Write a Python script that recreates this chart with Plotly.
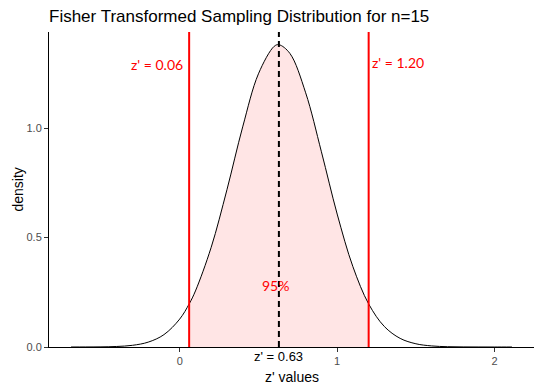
import plotly.graph_objects as go

# Curve (density of z' values)
z_values = [-0.69, -0.6, -0.5, -0.4, -0.3, -0.2, -0.1, 0.0, 0.06, 0.1, 0.2, 0.3, 0.4, 0.5, 0.6, 0.63,
            0.7, 0.8, 0.9, 1.0, 1.1, 1.2, 1.3, 1.4, 1.5, 1.6, 1.7, 1.8, 1.9, 2.0, 2.11]
density = [0.00004, 0.00016, 0.00065, 0.0024, 0.0077, 0.0222, 0.0565, 0.1277, 0.1968, 0.2562, 0.4558,
           0.7190, 1.0062, 1.2488, 1.3745, 1.382, 1.3419, 1.1620, 0.8924, 0.6078, 0.3672, 0.1968,
           0.0934, 0.0394, 0.0147, 0.0049, 0.0014, 0.0004, 0.0001, 0.00002, 0.0]

lower_bound = 0.06
upper_bound = 1.20
center = 0.63

x_ticks = [0, 1, 2]
y_ticks = [0.0, 0.5, 1.0]
y_tick_labels = ["0.0", "0.5", "1.0"]

title = "Fisher Transformed Sampling Distribution for n=15"

# The page body has an 8px default margin, so the figure is sized to fill the rest.
W, H = 534, 378

shade_x = [x for x in z_values if lower_bound <= x <= upper_bound]
shade_y = [d for x, d in zip(z_values, density) if lower_bound <= x <= upper_bound]

fig = go.Figure()
fig.add_trace(go.Scatter(x=shade_x, y=shade_y, mode="lines", line=dict(width=0, shape="spline"),
                         fill="tozeroy", fillcolor="rgba(255,0,0,0.1)", hoverinfo="skip",
                         showlegend=False))
fig.add_trace(go.Scatter(x=z_values, y=density, mode="lines",
                         line=dict(color="black", width=1, shape="spline"), showlegend=False))

for xv in [lower_bound, upper_bound]:
    fig.add_vline(x=xv, line=dict(color="red", width=2))
fig.add_vline(x=center, line=dict(color="black", width=2, dash="6px,4px"))

fig.add_annotation(x=lower_bound, y=1.292, text="z' = %.2f" % lower_bound, showarrow=False,
                   xanchor="right", xshift=-4, font=dict(family="Lato", size=14, color="red"))
fig.add_annotation(x=upper_bound, y=1.30, text="z' = %.2f" % upper_bound, showarrow=False,
                   xanchor="left", xshift=1, font=dict(family="Lato", size=14, color="red"))
fig.add_annotation(x=0.61, y=0.283, text="95%", showarrow=False,
                   font=dict(family="Lato", size=14, color="red"))
fig.add_annotation(x=center, y=0, yshift=-9, text="z' = %.2f" % center, showarrow=False,
                   yanchor="middle",
                   font=dict(family="Liberation Sans, Arial", size=13, color="black"))

# axis titles
fig.add_annotation(x=0.5, y=0, xref="paper", yref="paper", yshift=-30, text="z' values",
                   xanchor="center", yanchor="middle", showarrow=False,
                   font=dict(family="Liberation Sans, Arial", size=14, color="black"))
fig.add_annotation(x=0, y=0.5, xref="paper", yref="paper", xshift=-32, text="density",
                   xanchor="center", yanchor="middle", textangle=-90, showarrow=False,
                   font=dict(family="Liberation Sans, Arial", size=14, color="black"))

axis_common = dict(showline=True, linecolor="black", linewidth=1, ticks="outside", ticklen=4,
                   tickcolor="#333333", showgrid=False, zeroline=False, automargin=False,
                   tickfont=dict(family="Liberation Sans, Arial", size=11, color="#4D4D4D"))

fig.update_layout(
    width=W, height=H,
    margin=dict(l=41, r=8, t=24, b=39),
    plot_bgcolor="white", paper_bgcolor="white",
    title=dict(text=title, x=41 / W, xanchor="left", y=1 - 8 / H, yanchor="middle",
               font=dict(family="Liberation Sans, Arial", size=17, color="black")),
    xaxis=dict(range=[-0.83, 2.25], tickvals=x_ticks, **axis_common),
    yaxis=dict(range=[0, 1.44], tickvals=y_ticks, ticktext=y_tick_labels, **axis_common),
)

fig.write_html("out.html")
